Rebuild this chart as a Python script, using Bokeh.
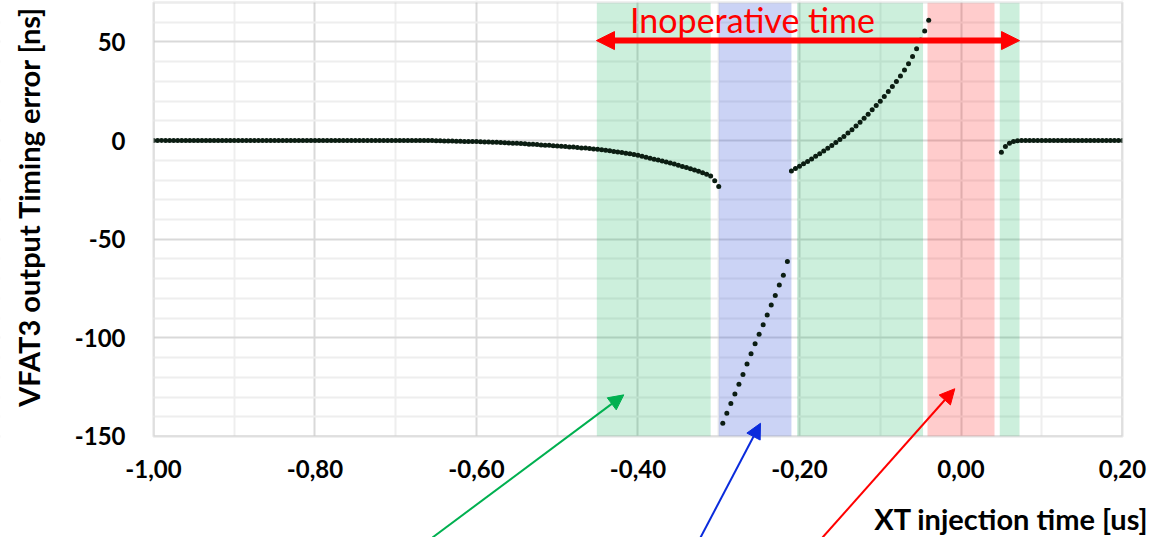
import math
from bokeh.plotting import figure
from bokeh.models import (BoxAnnotation, Arrow, NormalHead, Label, FixedTicker,
                          CustomJSTickFormatter, Range1d, ColumnDataSource)
from bokeh.embed import file_html
from bokeh.resources import INLINE

# ---------------- data (time in us, timing error in ns), sampled every 5 ns ----------------
step = 0.005

flat_left_start = -1.000
flat_left_vals = [0.0, 0.0, 0.0, 0.0, 0.0, 0.0, 0.0, 0.0, 0.0, 0.0,
                  0.0, 0.0, 0.0, 0.0, 0.0, 0.0, 0.0, 0.0, 0.0, 0.0,
                  0.0, 0.0, 0.0, 0.0, 0.0, 0.0, 0.0, 0.0, 0.0, 0.0,
                  0.0, 0.0, 0.0, 0.0, 0.0, 0.0, 0.0, 0.0, 0.0, 0.0,
                  0.0, 0.0, 0.0, 0.0, 0.0, 0.0, 0.0, 0.0, 0.0, 0.0,
                  0.0, 0.0, 0.0, 0.0, 0.0, 0.0, 0.0, 0.0, 0.0, 0.0,
                  0.0, 0.0, 0.0, 0.0, 0.0, 0.0, 0.0, 0.0, 0.0, 0.0]   # -1.000 .. -0.655

falling_start = -0.650
falling_vals = [-0.1, -0.1, -0.2, -0.2, -0.2, -0.3, -0.3, -0.4, -0.4, -0.5,
                -0.5, -0.6, -0.7, -0.7, -0.8, -0.9, -1.0, -1.1, -1.2, -1.3,
                -1.4, -1.5, -1.6, -1.8, -1.9, -2.0, -2.2, -2.3, -2.4, -2.6,
                -2.7, -2.9, -3.0, -3.2, -3.3, -3.5, -3.7, -3.8, -4.0, -4.2,
                -4.4, -4.6, -4.9, -5.2, -5.5, -5.8, -6.1, -6.4, -6.7, -7.0,
                -7.4, -7.9, -8.4, -8.9, -9.4, -9.9, -10.4, -10.9, -11.4, -11.9,
                -12.5, -13.1, -13.7, -14.3, -14.9, -15.6, -16.3, -17.1, -18.0, -20.3,
                -23.3]                                               # -0.650 .. -0.300

blind_start = -0.295
blind_vals = [-143.3, -138.2, -133.3, -128.4, -123.5, -118.6, -113.2, -108.1, -103.0,
              -98.2, -93.3, -88.4, -83.3, -78.5, -73.2, -68.2, -61.3]   # -0.295 .. -0.215

rising_start = -0.210
rising_vals = [-15.4, -14.2, -13.0, -11.8, -10.6, -9.3, -8.0, -6.7, -5.3, -3.9,
               -2.5, -1.0, 0.5, 2.1, 3.8, 5.5, 7.4, 9.3, 11.3, 13.4,
               15.6, 17.8, 20.0, 22.4, 24.9, 27.4, 30.0, 32.8, 35.8, 39.0,
               42.6, 46.6, 51.0, 55.5, 61.0]                         # -0.210 .. -0.040

recovery_start = 0.050
recovery_vals = [-5.9, -3.0, -1.4, -0.4, -0.1, 0.0, 0.0, 0.0, 0.0, 0.0,
                 0.0, 0.0, 0.0, 0.0, 0.0, 0.0, 0.0, 0.0, 0.0, 0.0,
                 0.0, 0.0, 0.0, 0.0, 0.0, 0.0, 0.0, 0.0, 0.0, 0.0,
                 0.0]                                                 # 0.050 .. 0.200

# axis extents (us / ns)
x_min, x_max = -1.0, 0.2
y_min, y_max = -150, 70

# shaded regions (us)
green_regions = [(-0.451, -0.310), (-0.203, -0.047), (0.048, 0.0725)]
blue_region = (-0.300, -0.210)
red_region = (-0.0415, 0.0415)

# span of the "Inoperative time" arrow (us) and its height (ns)
inop_span = (-0.4514, 0.0725)
inop_level = 50.7
inop_text = "Inoperative time"

# pointer arrows (x_start, y_start, x_end, y_end) in data units
green_pointer = (-0.6545, -201.2, -0.4176, -128.9)
blue_pointer = (-0.3226, -201.2, -0.2483, -143.3)
red_pointer = (-0.1715, -201.2, -0.0077, -125.8)

x_ticks = [-1.0, -0.8, -0.6, -0.4, -0.2, 0.0, 0.2]
x_tick_labels = ["-1,00", "-0,80", "-0,60", "-0,40", "-0,20", "0,00", "0,20"]
y_ticks = [-150, -100, -50, 0, 50]
y_tick_labels = ["-150", "-100", "-50", "0", "50"]
x_minor = [-0.9, -0.7, -0.5, -0.3, -0.1, 0.1]
y_minor = [-140, -130, -120, -110, -90, -80, -70, -60, -40, -30, -20, -10,
           10, 20, 30, 40, 60]

x_title = "XT injection time [us]"
y_title = "VFAT3 output Timing error [ns]"

# ---------------- build points ----------------
xs, ys = [], []
for start, vals in [(flat_left_start, flat_left_vals), (falling_start, falling_vals),
                    (blind_start, blind_vals), (rising_start, rising_vals),
                    (recovery_start, recovery_vals)]:
    for i, v in enumerate(vals):
        xs.append(round(start + i * step, 4))
        ys.append(v)
src = ColumnDataSource(dict(x=xs, y=ys))

# ---------------- figure ----------------
# The drawing area covers the whole canvas; the axes are pinned at the box edges
# (fixed_location) so that tick labels, titles and pointer arrows outside the box
# are drawn without clipping.
p = figure(width=1152, height=537, output_backend="svg", toolbar_location=None,
           x_range=Range1d(-1.18947, 0.23715), y_range=Range1d(-201.2, 71.014),
           min_border_left=0, min_border_right=0, min_border_top=0,
           min_border_bottom=0)
p.background_fill_color = "white"
p.border_fill_color = "white"
p.outline_line_color = None

for (a, b) in green_regions:
    p.add_layout(BoxAnnotation(left=a, right=b, bottom=y_min, top=y_max, fill_color="#00b050",
                               fill_alpha=0.2, line_color=None, level="underlay"))
p.add_layout(BoxAnnotation(left=blue_region[0], right=blue_region[1], bottom=y_min, top=y_max,
                           fill_color="#2f4fd7", fill_alpha=0.25, line_color=None, level="underlay"))
p.add_layout(BoxAnnotation(left=red_region[0], right=red_region[1], bottom=y_min, top=y_max,
                           fill_color="#ff0000", fill_alpha=0.2, line_color=None, level="underlay"))

# white covers outside the axes box, then the gray box border
p.add_layout(BoxAnnotation(top=y_min, fill_color="white", fill_alpha=1.0, line_color=None,
                           level="glyph"))
p.add_layout(BoxAnnotation(bottom=y_max, fill_color="white", fill_alpha=1.0, line_color=None,
                           level="glyph"))
p.add_layout(BoxAnnotation(left=x_max, fill_color="white", fill_alpha=1.0, line_color=None,
                           level="glyph"))
p.add_layout(BoxAnnotation(right=x_min, fill_color="white", fill_alpha=1.0, line_color=None,
                           level="glyph"))
p.add_layout(BoxAnnotation(left=x_min, right=x_max, bottom=y_min, top=y_max, fill_color=None,
                           line_color="#bfbfbf", line_width=2.5, level="glyph"))

p.scatter("x", "y", source=src, size=5, fill_color="#0b1d12", line_color=None)

# axes
fmt_code = """
const i = tick_vals.findIndex(t => Math.abs(t - tick) < 1e-9);
return i >= 0 ? tick_text[i] : '';
"""
p.xaxis.ticker = FixedTicker(ticks=x_ticks, minor_ticks=x_minor)
p.yaxis.ticker = FixedTicker(ticks=y_ticks, minor_ticks=y_minor)
p.xaxis.formatter = CustomJSTickFormatter(args=dict(tick_vals=x_ticks, tick_text=x_tick_labels), code=fmt_code)
p.yaxis.formatter = CustomJSTickFormatter(args=dict(tick_vals=y_ticks, tick_text=y_tick_labels), code=fmt_code)
p.xaxis.fixed_location = y_min
p.yaxis.fixed_location = x_min
for ax in (p.xaxis, p.yaxis):
    ax.axis_line_color = None
    ax.major_tick_line_color = None
    ax.minor_tick_line_color = None
    ax.major_tick_out = 0
    ax.major_label_text_font = "Lato"
    ax.major_label_text_font_style = "bold"
    ax.major_label_text_font_size = "24px"
    ax.major_label_text_color = "black"
p.xaxis.major_label_standoff = 20
p.yaxis.major_label_standoff = 24

for g in (p.xgrid, p.ygrid):
    g.grid_line_color = "#d9d9d9"
    g.grid_line_width = 2
    g.minor_grid_line_color = "#eeeeee"
    g.minor_grid_line_width = 2

# inoperative arrow + text
p.add_layout(Arrow(x_start=inop_span[0], y_start=inop_level, x_end=inop_span[1], y_end=inop_level,
                   line_color="#ff0000", line_width=6,
                   start=NormalHead(size=18, fill_color="#ff0000", line_color="#ff0000"),
                   end=NormalHead(size=18, fill_color="#ff0000", line_color="#ff0000")))
p.add_layout(Label(x=-0.2582, y=61.4, text=inop_text, text_font="Lato", text_font_size="34px",
                   text_color="#ff0000", text_align="center", text_baseline="alphabetic"))

for (x0, y0, x1, y1), col in [(green_pointer, "#00b050"), (blue_pointer, "#0a2bdc"),
                              (red_pointer, "#ff0000")]:
    p.add_layout(Arrow(x_start=x0, y_start=y0, x_end=x1, y_end=y1, line_color=col, line_width=2,
                       start=None,
                       end=NormalHead(size=15, fill_color=col, line_color=col)))

# axis titles
p.add_layout(Label(x=0.2322, y=-191.6, text=x_title, text_font="Lato", text_font_style="bold",
                   text_font_size="29px", text_color="black", text_align="right",
                   text_baseline="alphabetic"))
p.add_layout(Label(x=-1.1548, y=-33.45, text=y_title, text_font="Lato", text_font_style="bold",
                   text_font_size="29px", text_color="black", text_align="center",
                   text_baseline="middle", angle=math.pi / 2))

open("out.html", "w").write(file_html(p, INLINE))
